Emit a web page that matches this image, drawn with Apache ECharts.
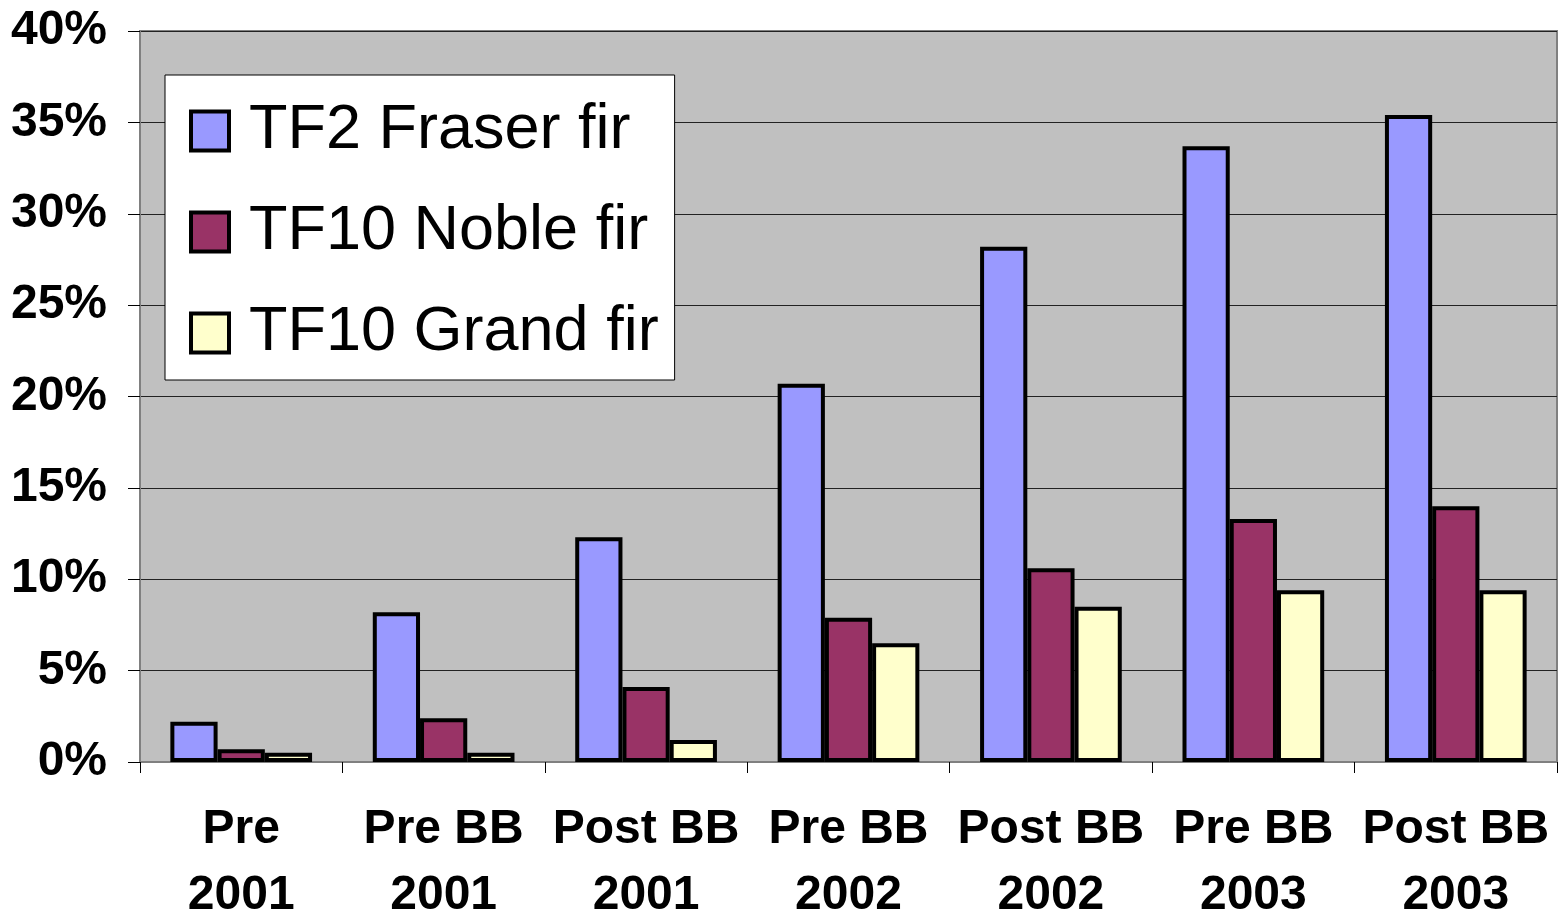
<!DOCTYPE html>
<html>
<head>
<meta charset="utf-8">
<style>
  html, body { margin: 0; padding: 0; background: #fff; }
  #chart { width: 1559px; height: 918px; }
</style>
<script src="https://cdn.jsdelivr.net/npm/echarts@6/dist/echarts.min.js"></script>
</head>
<body>
<div id="chart"></div>
<script>
// Sampling periods along the x axis
const categories = ['Pre\n2001', 'Pre BB\n2001', 'Post BB\n2001', 'Pre BB\n2002', 'Post BB\n2002', 'Pre BB\n2003', 'Post BB\n2003'];

// Percent values per species
const fraserFir = [2.2, 8.2, 12.3, 20.7, 28.2, 33.7, 35.4];
const nobleFir  = [0.7, 2.4, 4.1, 7.9, 10.6, 13.3, 14.0];
const grandFir  = [0.5, 0.5, 1.2, 6.5, 8.5, 9.4, 9.4];

const seriesNames = ['TF2 Fraser fir', 'TF10 Noble fir', 'TF10 Grand fir'];
const seriesColors = ['#9999FF', '#993366', '#FFFFCC'];

const FONT = "'Liberation Sans', Arial, Helvetica, sans-serif";

const chart = echarts.init(document.getElementById('chart'), null, { renderer: 'canvas' });

function barSeries(name, data, color) {
  return {
    name: name,
    type: 'bar',
    data: data,
    barGap: '0%',
    barCategoryGap: '30%',
    itemStyle: { color: color, borderColor: '#000', borderWidth: 4 },
    emphasis: { disabled: true },
    animation: false
  };
}

chart.setOption({
  animation: false,
  backgroundColor: '#ffffff',
  grid: {
    left: 140, right: 2, top: 31, bottom: 156,
    outerBoundsMode: 'none',
    containLabel: false,
    show: true,
    backgroundColor: '#C0C0C0',
    borderColor: '#808080',
    borderWidth: 2
  },
  legend: {
    orient: 'vertical',
    left: 165,
    top: 75,
    padding: [24, 16, 15, 24],
    itemGap: 37,
    itemWidth: 38,
    itemHeight: 39,
    backgroundColor: '#ffffff',
    borderColor: '#000000',
    borderWidth: 1,
    icon: 'rect',
    itemStyle: { borderColor: '#000', borderWidth: 4 },
    textStyle: {
      fontFamily: FONT,
      fontSize: 63,
      color: '#000',
      lineHeight: 64,
      padding: [0, 0, 0, 15]
    },
    data: seriesNames
  },
  xAxis: {
    type: 'category',
    data: categories,
    axisLine: { show: true, lineStyle: { color: '#808080', width: 2 } },
    axisTick: { show: true, inside: false, length: 11, lineStyle: { color: '#000', width: 1 } },
    axisLabel: {
      fontFamily: FONT,
      fontWeight: 'bold',
      fontSize: 48,
      lineHeight: 66,
      color: '#000',
      margin: 35,
      interval: 0
    },
    splitLine: { show: false }
  },
  yAxis: {
    type: 'value',
    min: 0,
    max: 40,
    interval: 5,
    axisLine: { show: true, lineStyle: { color: '#808080', width: 2 } },
    axisTick: { show: true, inside: false, length: 12, lineStyle: { color: '#000', width: 1 } },
    axisLabel: {
      formatter: '{value}%',
      fontFamily: FONT,
      fontWeight: 'bold',
      fontSize: 48,
      color: '#000',
      margin: 33
    },
    splitLine: { show: true, lineStyle: { color: '#222', width: 1.2 } }
  },
  series: [
    barSeries(seriesNames[0], fraserFir, seriesColors[0]),
    barSeries(seriesNames[1], nobleFir, seriesColors[1]),
    barSeries(seriesNames[2], grandFir, seriesColors[2])
  ]
});
</script>
</body>
</html>
